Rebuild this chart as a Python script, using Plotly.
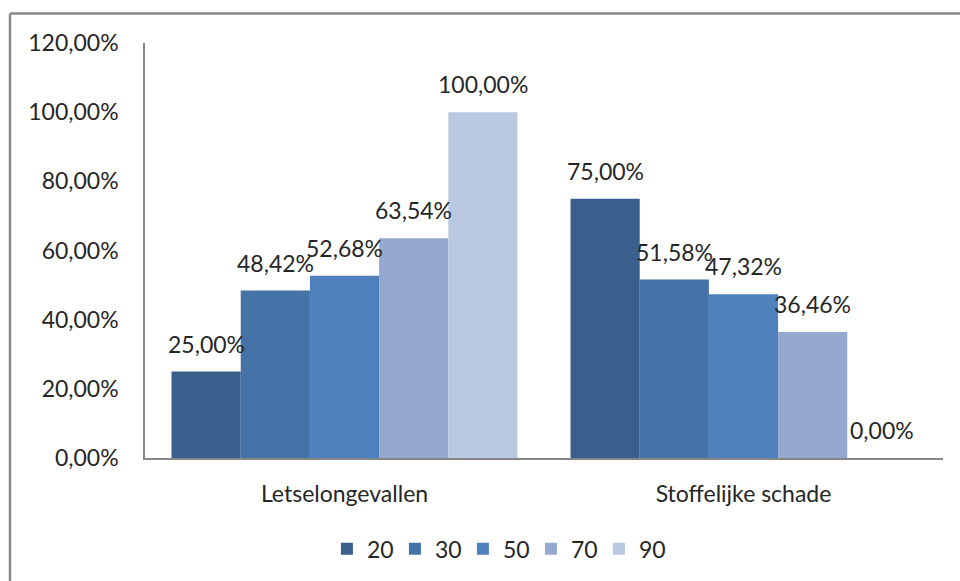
import plotly.graph_objects as go

categories = ["Letselongevallen", "Stoffelijke schade"]
series_names = ["20", "30", "50", "70", "90"]
values_20 = [0.25, 0.75]
values_30 = [0.4842, 0.5158]
values_50 = [0.5268, 0.4732]
values_70 = [0.6354, 0.3646]
values_90 = [1.00, 0.00]
series_values = [values_20, values_30, values_50, values_70, values_90]
colors = ["#3A5F8D", "#4573A7", "#4F81BD", "#95A9D0", "#BBC8E2"]

FONT = "Lato"
FONT_SIZE = 23
TEXT_COLOR = "#262626"
BARGAP = 0.133

fig = go.Figure()
for name, vals, col in zip(series_names, series_values, colors):
    fig.add_trace(go.Bar(
        x=categories, y=vals, name=name,
        marker=dict(color=col, line=dict(width=0)),
    ))

# value labels above each bar, placed at the bar's slot within its group
n = len(series_names)
slot = (1 - BARGAP) / n
for j, vals in enumerate(series_values):
    for i, v in enumerate(vals):
        fig.add_annotation(
            x=i + (j - (n - 1) / 2) * slot, y=v, xref="x", yref="y",
            text=f"{v * 100:.2f}%".replace(".", ","),
            showarrow=False, yanchor="middle", yshift=28,
            font=dict(family=FONT, size=FONT_SIZE, color=TEXT_COLOR),
        )

# outer frame: top and left edges
fig.add_shape(type="line", xref="paper", yref="paper",
              x0=(10 - 145) / 798, x1=(962 - 145) / 798,
              y0=(459 - 13.5) / 416, y1=(459 - 13.5) / 416,
              line=dict(color="#8A8A8A", width=2.5))
fig.add_shape(type="line", xref="paper", yref="paper",
              x0=(10 - 145) / 798, x1=(10 - 145) / 798,
              y0=(459 - 13.5) / 416, y1=(459 - 583) / 416,
              line=dict(color="#8A8A8A", width=2.5))

fig.update_layout(
    width=960, height=581,
    margin=dict(l=145, r=17, t=43, b=122),
    paper_bgcolor="white", plot_bgcolor="white",
    barmode="group", bargap=BARGAP, bargroupgap=0,
    separators=",.",
    font=dict(family=FONT, size=FONT_SIZE, color=TEXT_COLOR),
    showlegend=True,
    legend=dict(orientation="h", x=0.441, xanchor="center", y=-0.216, yanchor="middle",
                font=dict(family=FONT, size=FONT_SIZE, color=TEXT_COLOR),
                itemwidth=30, entrywidth=23, entrywidthmode="pixels",
                traceorder="normal"),
)
fig.update_xaxes(
    showline=True, linecolor="#868686", linewidth=1.5,
    showgrid=False, ticks="", ticklabelstandoff=15,
    range=[-0.5, 1.5],
)
fig.update_yaxes(
    range=[0, 1.2], dtick=0.2, tickformat=".2%",
    showline=True, linecolor="#868686", linewidth=1.5,
    showgrid=False, zeroline=False, ticks="", ticklabelstandoff=20,
)

fig.write_html("out.html")
